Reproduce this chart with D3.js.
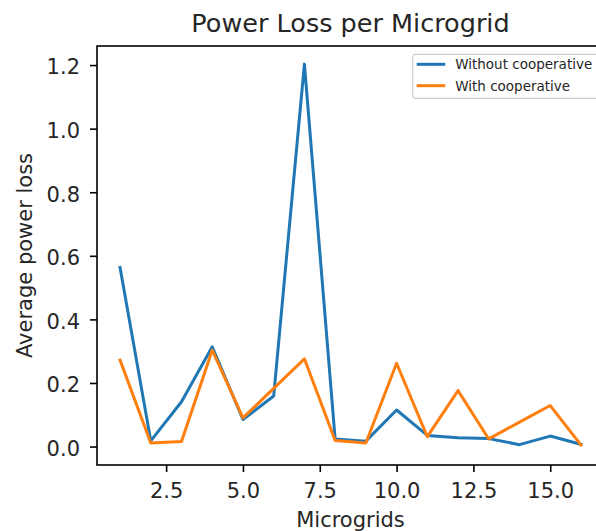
<!DOCTYPE html>
<html>
<head>
<meta charset="utf-8">
<script src="https://cdn.jsdelivr.net/npm/d3@7"></script>
<style>
  body { margin: 0; background: #fff; }
  text { font-family: "DejaVu Sans", sans-serif; fill: #262626; }
</style>
</head>
<body>
<div id="container"></div>
<script>
// data
var microgrids = [1, 2, 3, 4, 5, 6, 7, 8, 9, 10, 11, 12, 13, 14, 15, 16];
var withoutCoop = [0.563, 0.018, 0.141, 0.314, 0.085, 0.159, 1.203, 0.024, 0.017, 0.115, 0.035, 0.028, 0.025, 0.006, 0.033, 0.007];
var withCoop = [0.272, 0.011, 0.016, 0.303, 0.090, 0.183, 0.276, 0.019, 0.011, 0.262, 0.031, 0.176, 0.024, 0.077, 0.129, 0.005];
var seriesNames = ["Without cooperative", "With cooperative"];
var seriesColors = ["#1f77b4", "#ff7f0e"];
var xTicks = [2.5, 5.0, 7.5, 10.0, 12.5, 15.0];
var yTicks = [0.0, 0.2, 0.4, 0.6, 0.8, 1.0, 1.2];

var W = 596, H = 531;
var margin = {top: 46, right: -8, bottom: 66, left: 97},
    width = W - margin.left - margin.right,
    height = H - margin.top - margin.bottom;

var svg = d3.select("#container")
  .append("svg")
    .attr("width", W)
    .attr("height", H)
  .append("g")
    .attr("transform", "translate(" + margin.left + "," + margin.top + ")");

// matplotlib-like 5% padding on both axes
var x = d3.scaleLinear()
  .domain([0.25, 16.75])
  .range([0, width]);
var y = d3.scaleLinear()
  .domain([-0.058, 1.26])
  .range([height, 0]);

// lines
var line = d3.line()
  .x(function(d, i) { return x(microgrids[i]); })
  .y(function(d) { return y(d); });

[withoutCoop, withCoop].forEach(function(vals, k) {
  svg.append("path")
    .datum(vals)
    .attr("fill", "none")
    .attr("stroke", seriesColors[k])
    .attr("stroke-width", 3)
    .attr("stroke-linejoin", "round")
    .attr("stroke-linecap", "square")
    .attr("d", line);
});

// X axis
var xAxis = svg.append("g")
  .attr("transform", "translate(0," + height + ")")
  .call(d3.axisBottom(x).tickValues(xTicks).tickFormat(d3.format(".1f")).tickSize(7).tickSizeOuter(0));
xAxis.select(".domain").remove();
xAxis.selectAll("line").attr("stroke", "#000").attr("stroke-width", 1.6);
xAxis.selectAll("text")
  .attr("y", 33)
  .attr("dy", 0)
  .style("font-size", "21px")
  .style("font-family", "DejaVu Sans")
  .attr("fill", "#262626");

// Y axis
var yAxis = svg.append("g")
  .call(d3.axisLeft(y).tickValues(yTicks).tickFormat(d3.format(".1f")).tickSize(7).tickSizeOuter(0));
yAxis.select(".domain").remove();
yAxis.selectAll("line").attr("stroke", "#000").attr("stroke-width", 1.6);
yAxis.selectAll("text")
  .attr("x", -17)
  .attr("dy", "0.42em")
  .style("font-size", "21px")
  .style("font-family", "DejaVu Sans")
  .attr("fill", "#262626");

// frame
svg.append("rect")
  .attr("x", 0)
  .attr("y", 0)
  .attr("width", width)
  .attr("height", height)
  .attr("fill", "none")
  .attr("stroke", "#000")
  .attr("stroke-width", 1.6);

// title and labels
svg.append("text")
  .attr("x", width / 2)
  .attr("y", 31.5 - margin.top)
  .attr("text-anchor", "middle")
  .style("font-size", "25.5px")
  .text("Power Loss per Microgrid");

svg.append("text")
  .attr("x", width / 2)
  .attr("y", 527 - margin.top)
  .attr("text-anchor", "middle")
  .style("font-size", "21px")
  .text("Microgrids");

svg.append("text")
  .attr("transform", "rotate(-90)")
  .attr("x", -height / 2)
  .attr("y", 32 - margin.left)
  .attr("text-anchor", "middle")
  .style("font-size", "21px")
  .text("Average power loss");

// legend
var lg = svg.append("g")
  .attr("transform", "translate(" + (412.7 - margin.left) + "," + (54.3 - margin.top) + ")");
lg.append("rect")
  .attr("width", 200)
  .attr("height", 44)
  .attr("rx", 3)
  .attr("fill", "#fff")
  .attr("fill-opacity", 0.8)
  .attr("stroke", "#cccccc")
  .attr("stroke-width", 1.2);
seriesNames.forEach(function(name, i) {
  var row = lg.append("g").attr("transform", "translate(0," + (10 + i * 21.4) + ")");
  row.append("line")
    .attr("x1", 4).attr("x2", 32.5)
    .attr("y1", 0).attr("y2", 0)
    .attr("stroke", seriesColors[i])
    .attr("stroke-width", 3);
  row.append("text")
    .attr("x", 42.5)
    .attr("dy", "0.36em")
    .style("font-size", "13.5px")
    .text(name);
});
</script>
</body>
</html>
